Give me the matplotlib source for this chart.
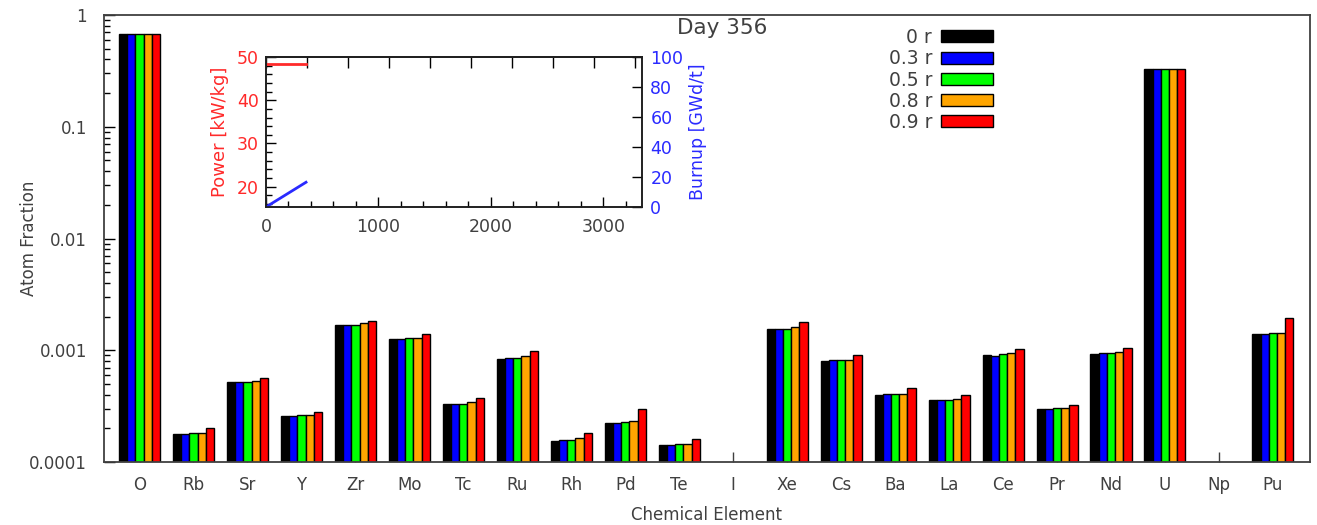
""" Atom fractions per element at several radial positions, with a
power / burnup history inset.
"""

import numpy as np
import matplotlib.pyplot as plt
from matplotlib.ticker import LogLocator, NullFormatter, MultipleLocator

plt.rcParams['font.family'] = ['DejaVu Sans']

elements = ['O', 'Rb', 'Sr', 'Y', 'Zr', 'Mo', 'Tc', 'Ru', 'Rh', 'Pd', 'Te', 'I',
            'Xe', 'Cs', 'Ba', 'La', 'Ce', 'Pr', 'Nd', 'U', 'Np', 'Pu']
radii = ['0 r', '0.3 r', '0.5 r', '0.8 r', '0.9 r']
colors = ['#000000', '#0000ff', '#00ff00', '#ffa500', '#ff0000']

# atom fraction per element, one list per radial position (0 = not present)
frac_0r = [0.67, 1.78e-4, 5.2e-4, 2.60e-4, 1.67e-3, 1.26e-3, 3.33e-4, 8.3e-4,
           1.54e-4, 2.25e-4, 1.41e-4, 0, 1.56e-3, 8.07e-4, 4.0e-4, 3.61e-4,
           9.0e-4, 2.98e-4, 9.3e-4, 0.329, 0, 1.41e-3]
frac_03r = [0.67, 1.78e-4, 5.2e-4, 2.60e-4, 1.67e-3, 1.26e-3, 3.33e-4, 8.55e-4,
            1.58e-4, 2.25e-4, 1.41e-4, 0, 1.56e-3, 8.1e-4, 4.05e-4, 3.61e-4,
            8.95e-4, 2.98e-4, 9.5e-4, 0.329, 0, 1.41e-3]
frac_05r = [0.67, 1.83e-4, 5.2e-4, 2.63e-4, 1.70e-3, 1.29e-3, 3.33e-4, 8.55e-4,
            1.58e-4, 2.30e-4, 1.45e-4, 0, 1.56e-3, 8.2e-4, 4.1e-4, 3.61e-4,
            9.25e-4, 3.05e-4, 9.5e-4, 0.329, 0, 1.43e-3]
frac_08r = [0.67, 1.83e-4, 5.3e-4, 2.63e-4, 1.75e-3, 1.29e-3, 3.44e-4, 8.8e-4,
            1.63e-4, 2.35e-4, 1.45e-4, 0, 1.60e-3, 8.2e-4, 4.1e-4, 3.7e-4,
            9.5e-4, 3.05e-4, 9.7e-4, 0.329, 0, 1.43e-3]
frac_09r = [0.67, 2.02e-4, 5.6e-4, 2.82e-4, 1.84e-3, 1.41e-3, 3.72e-4, 9.8e-4,
            1.81e-4, 2.98e-4, 1.62e-4, 0, 1.79e-3, 9.0e-4, 4.6e-4, 3.98e-4,
            1.03e-3, 3.25e-4, 1.05e-3, 0.329, 0, 1.95e-3]
fractions = [frac_0r, frac_03r, frac_05r, frac_08r, frac_09r]

# irradiation history
days = [0, 356]
power = [48.3, 48.3]     # kW/kg
burnup = [0.0, 16.5]     # GWd/t

title = 'Day 356'
text_color = '#404040'

fig = plt.figure(figsize=(13.17, 5.25), dpi=100)
ax = fig.add_axes([0.0786, 0.12, 0.9160, 0.8514])
ax.set_axisbelow(True)

x = np.arange(len(elements))
width = 0.152
for i, (vals, c, lab) in enumerate(zip(fractions, colors, radii)):
    offs = (i - 2) * width
    ax.bar(x + offs, vals, width, color=c, edgecolor='black', linewidth=1.0,
           label=lab)

ax.set_yscale('log')
ax.set_ylim(1e-4, 1)
ax.set_xlim(-0.667, 21.685)
ax.set_xticks(x)
ax.set_xticklabels(elements)
ax.yaxis.set_major_locator(LogLocator(base=10, numticks=10))
ax.yaxis.set_minor_locator(LogLocator(base=10, subs=np.arange(2, 10), numticks=10))
ax.yaxis.set_minor_formatter(NullFormatter())
ax.set_yticks([1e-4, 1e-3, 1e-2, 1e-1, 1])
ax.set_yticklabels(['0.0001', '0.001', '0.01', '0.1', '1'])
ax.tick_params(axis='x', direction='in', length=7, width=1, pad=10,
               labelsize=12, colors=text_color, labelcolor=text_color)
ax.tick_params(axis='y', which='major', direction='in', length=8, width=1,
               pad=12, labelsize=12, labelcolor=text_color)
ax.tick_params(axis='y', which='minor', direction='in', length=4, width=1)
for sp in ax.spines.values():
    sp.set_color(text_color)
    sp.set_linewidth(1.3)
ax.set_xlabel('Chemical Element', fontsize=12, color=text_color, labelpad=9)
ax.set_ylabel('Atom Fraction', fontsize=12, color=text_color)
ax.yaxis.set_label_coords(-0.054, 0.5)

fig.text(722 / 1317, 1 - 28 / 525, title, ha='center', va='center',
         fontsize=15.5, color=text_color)

leg = ax.legend(loc='upper right', bbox_to_anchor=(993 / 1317, 1 - 28 / 525),
                bbox_transform=fig.transFigure, frameon=False, markerfirst=False,
                fontsize=13.5, handlelength=2.75, handleheight=0.6,
                handletextpad=0.5, labelspacing=0.12, borderpad=0,
                borderaxespad=0)
for t in leg.get_texts():
    t.set_color(text_color)

# inset: power and burnup history
red = '#ff2a2a'
blue = '#2a2aff'
ax_in = fig.add_axes([266 / 1317, 1 - 207 / 525, 376 / 1317, 150 / 525])
ax_in.plot(days, power, color=red, linewidth=2)
ax_in.set_xlim(0, 3345)
ax_in.set_ylim(15.3, 50)
ax_in.xaxis.set_major_locator(MultipleLocator(1000))
ax_in.xaxis.set_minor_locator(MultipleLocator(200))
ax_in.yaxis.set_major_locator(MultipleLocator(10))
ax_in.yaxis.set_minor_locator(MultipleLocator(2))
ax_in.tick_params(which='major', direction='in', length=7, width=1,
                  labelsize=12.5)
ax_in.tick_params(which='minor', direction='in', length=4, width=1)
ax_in.tick_params(axis='x', labelcolor=text_color, pad=8)
ax_in.tick_params(axis='y', labelcolor=red, pad=5)
ax_in.set_ylabel('Power [kW/kg]', color=red, fontsize=13, labelpad=6)

top = ax_in.secondary_xaxis('top')
top.set_xticks(np.arange(0, 3345, 365))
top.set_xticklabels([])
top.tick_params(direction='in', length=8, width=1)

ax_b = ax_in.twinx()
ax_b.plot(days, burnup, color=blue, linewidth=2)
ax_b.set_ylim(0, 100)
ax_b.yaxis.set_major_locator(MultipleLocator(20))
ax_b.tick_params(direction='in', length=7, width=1, labelsize=12.5,
                 labelcolor=blue, pad=6)
ax_b.set_ylabel('Burnup [GWd/t]', color=blue, fontsize=12.5, labelpad=4)

for a in (ax_in, ax_b, top):
    for sp in a.spines.values():
        sp.set_color('#202020')
        sp.set_linewidth(1.2)

fig.savefig('out.png', dpi=100)
